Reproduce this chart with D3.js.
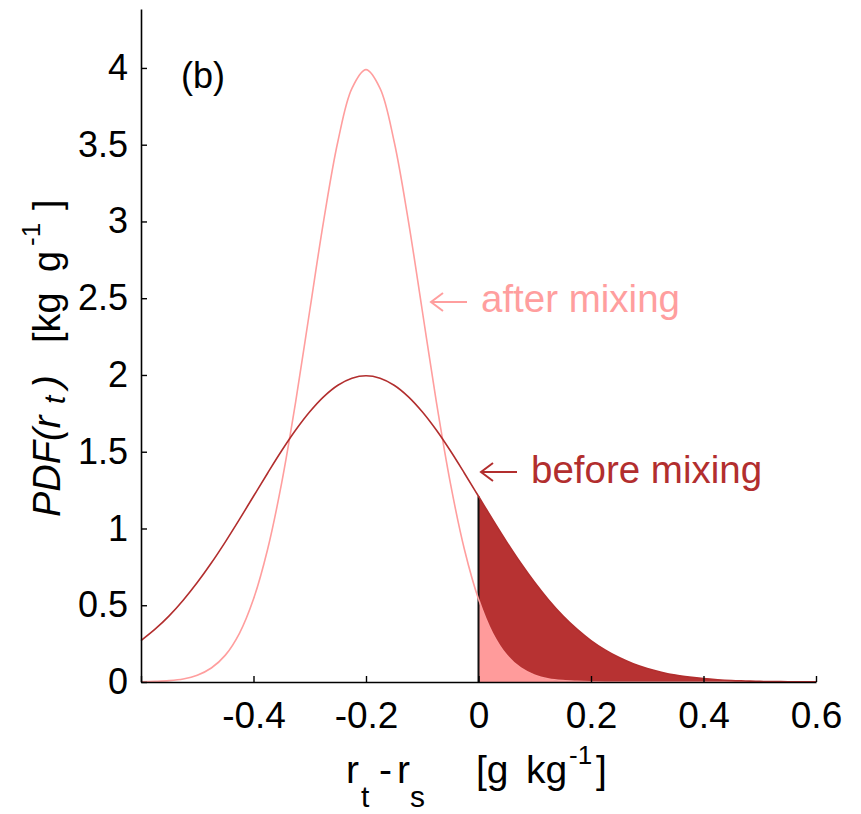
<!DOCTYPE html>
<html>
<head>
<meta charset="utf-8">
<script src="https://cdn.jsdelivr.net/npm/d3@7"></script>
<style>
  html, body { margin: 0; padding: 0; background: #fff; }
  svg { display: block; }
  text { font-family: "Liberation Sans", Arial, sans-serif; }
</style>
</head>
<body>
<svg id="chart" width="861" height="814"></svg>
<script>
// ---- data ----
const xValues = [-0.6,-0.575,-0.55,-0.525,-0.5,-0.475,-0.45,-0.425,-0.4,-0.375,-0.35,-0.325,-0.3,-0.275,-0.25,-0.225,
  -0.2,-0.175,-0.15,-0.125,-0.1,-0.075,-0.05,-0.025,0,0.025,0.05,0.075,0.1,0.125,0.15,0.175,
  0.2,0.225,0.25,0.275,0.3,0.325,0.35,0.375,0.4,0.425,0.45,0.475,0.5,0.525,0.55,0.575,0.6];
const beforeMixing = [0.270,0.344,0.431,0.533,0.648,0.775,0.913,1.059,1.210,1.360,1.506,1.641,1.760,1.859,1.933,1.979,
  1.995,1.979,1.933,1.859,1.760,1.641,1.506,1.360,1.210,1.059,0.913,0.775,0.648,0.533,0.431,0.344,
  0.270,0.209,0.159,0.119,0.088,0.064,0.045,0.032,0.022,0.015,0.010,0.007,0.004,0.003,0.002,0.001,0.001];
const afterMixing = [0.001,0.004,0.009,0.020,0.044,0.091,0.175,0.317,0.540,0.863,1.295,1.826,2.420,3.011,3.521,3.867,
  3.989,3.867,3.521,3.011,2.420,1.826,1.295,0.863,0.540,0.317,0.175,0.091,0.044,0.020,0.009,0.004,
  0.001,0,0,0,0,0,0,0,0,0,0,0,0,0,0,0,0];
const xTicks = [-0.6,-0.4,-0.2,0,0.2,0.4,0.6];
const xTickLabels = ["", "-0.4","-0.2","0","0.2","0.4","0.6"];
const yTicks = [0,0.5,1,1.5,2,2.5,3,3.5,4];
const yTickLabels = ["0","0.5","1","1.5","2","2.5","3","3.5","4"];
const threshold = 0;

// ---- drawing ----
const svg = d3.select("#chart");
const x = d3.scaleLinear().domain([-0.6, 0.6]).range([141, 816]);
const y = d3.scaleLinear().domain([0, 4.384]).range([682, 9]);

const cBefore = "#b73232", cBeforeLine = "#b22e2e";
const cAfter = "#ff9b9b", cAfterLine = "#ff9e9e";

const before = xValues.map((v, i) => ({x: v, y: beforeMixing[i]}));
const after = xValues.map((v, i) => ({x: v, y: afterMixing[i]}));

const line = d3.line().x(d => x(d.x)).y(d => y(d.y)).curve(d3.curveCatmullRom);
const area = d3.area().x(d => x(d.x)).y0(y(0)).y1(d => y(d.y)).curve(d3.curveCatmullRom);

const right = arr => arr.filter(d => d.x >= threshold);

svg.append("path").attr("d", area(right(before))).attr("fill", cBefore);
svg.append("path").attr("d", area(right(after))).attr("fill", cAfter);
svg.append("path").attr("d", line(right(after).filter(d => d.x <= 0.2)))
  .attr("fill", "none").attr("stroke", "#555").attr("stroke-width", 0.8)
  .attr("stroke-dasharray", "7,6").attr("opacity", 0.6);

// threshold vertical line
svg.append("line")
  .attr("x1", x(threshold)).attr("x2", x(threshold))
  .attr("y1", y(0)).attr("y2", y(beforeMixing[xValues.indexOf(threshold)]))
  .attr("stroke", "#111").attr("stroke-width", 2);

svg.append("path").attr("d", line(after)).attr("fill", "none")
  .attr("stroke", cAfterLine).attr("stroke-width", 1.6);
svg.append("path").attr("d", line(before)).attr("fill", "none")
  .attr("stroke", cBeforeLine).attr("stroke-width", 1.6);

// axes
const xAxis = d3.axisBottom(x).tickValues(xTicks)
  .tickFormat((d, i) => xTickLabels[i]).tickSizeInner(-6).tickSizeOuter(0).tickPadding(20);
const gx = svg.append("g").attr("transform", `translate(0,${y(0)})`).call(xAxis);
gx.selectAll("text").attr("font-size", 37).attr("fill", "#000")
  .attr("font-family", "'Liberation Sans', Arial, sans-serif");

const yAxis = d3.axisLeft(y).tickValues(yTicks)
  .tickFormat((d, i) => yTickLabels[i]).tickSizeInner(-6).tickSizeOuter(0).tickPadding(13);
const gy = svg.append("g").attr("transform", `translate(${x(-0.6)},0)`).call(yAxis);
gy.selectAll("text").attr("font-size", 36).attr("fill", "#000")
  .attr("font-family", "'Liberation Sans', Arial, sans-serif");

[gx, gy].forEach(g => {
  g.select(".domain").attr("stroke", "#000").attr("stroke-width", 1.6);
  g.selectAll(".tick line").attr("stroke", "#000").attr("stroke-width", 1.4);
});

// panel label
svg.append("text").attr("x", 181).attr("y", 88).attr("font-size", 36).text("(b)");

// annotations
function arrow(x0, x1, yy, color) {
  svg.append("path")
    .attr("d", `M${x1},${yy}H${x0}M${x0 + 12},${yy - 9}L${x0},${yy}L${x0 + 12},${yy + 9}`)
    .attr("fill", "none").attr("stroke", color).attr("stroke-width", 2);
}
arrow(431, 467, 302, cAfterLine);
svg.append("text").attr("x", 481).attr("y", 312).attr("font-size", 38.5)
  .attr("fill", cAfterLine).text("after mixing");
arrow(481, 517, 472, cBeforeLine);
svg.append("text").attr("x", 531).attr("y", 483).attr("font-size", 38.5)
  .attr("fill", cBeforeLine).text("before mixing");

// x-axis title
const xt = svg.append("g").attr("font-size", 39);
xt.append("text").attr("x", 346).attr("y", 783).text("r");
xt.append("text").attr("x", 361).attr("y", 807).attr("font-size", 30).text("t");
xt.append("text").attr("x", 379).attr("y", 783).text("-");
xt.append("text").attr("x", 397).attr("y", 783).text("r");
xt.append("text").attr("x", 410).attr("y", 807).attr("font-size", 30).text("s");
xt.append("text").attr("x", 476).attr("y", 783).text("[g");
xt.append("text").attr("x", 526).attr("y", 783).text("kg");
xt.append("text").attr("x", 569).attr("y", 764).attr("font-size", 26).text("-1");
xt.append("text").attr("x", 596).attr("y", 783).text("]");

// y-axis title (rotated)
const yt = svg.append("g").attr("transform", "translate(60,0) rotate(-90)").attr("font-size", 38);
yt.append("text").attr("x", -517).attr("y", 0).attr("font-style", "italic").text("PDF(r");
yt.append("text").attr("x", -404).attr("y", 5).attr("font-size", 30).attr("font-style", "italic").text("t");
yt.append("text").attr("x", -388).attr("y", 0).attr("font-style", "italic").text(")");
yt.append("text").attr("x", -343).attr("y", 0).text("[kg");
yt.append("text").attr("x", -272).attr("y", 0).text("g");
yt.append("text").attr("x", -246).attr("y", -20).attr("font-size", 26).text("-1");
yt.append("text").attr("x", -210).attr("y", 0).text("]");
</script>
</body>
</html>
